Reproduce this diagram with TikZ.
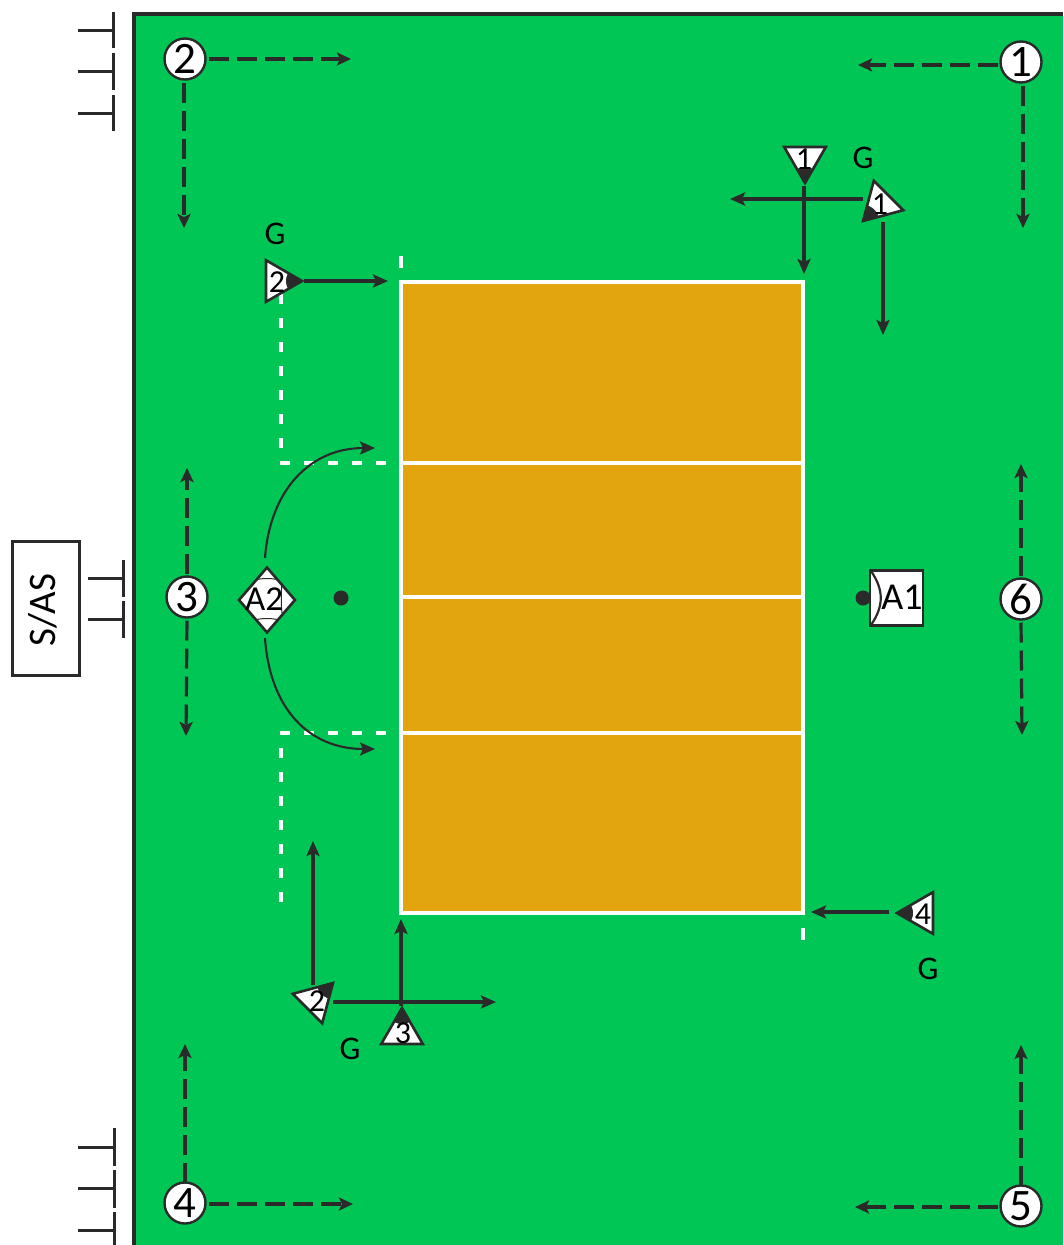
\documentclass[tikz,border=0pt]{standalone}
\usepackage{fontspec}
\setmainfont{Carlito}
\usetikzlibrary{arrows.meta,shapes.geometric}
\definecolor{pitch}{HTML}{00C656}
\definecolor{courtfill}{HTML}{E2A40F}
\definecolor{ink}{HTML}{2A2A2A}
\newcommand{\fs}[1]{\fontsize{#1}{#1}\selectfont}
\newcommand{\tipmark}[1]{%
  \begin{scope}
    \clip (#1.corner 1) -- (#1.corner 2) -- (#1.corner 3) -- cycle;
    \fill[ink] (#1.corner 1) circle (16pt);
  \end{scope}}
\tikzset{
  x=1pt,y=-1pt,
  numcircle/.style={circle,draw=ink,fill=white,line width=2.4pt,minimum size=41pt,inner sep=0pt,outer sep=0pt,text=black,font=\fs{45}},
  reftri/.style={regular polygon,regular polygon sides=3,shape border rotate=#1-90,draw=ink,fill=white,line width=2.6pt,minimum size=48pt,inner sep=0pt,outer sep=0pt},
  trilabel/.style={inner sep=0pt,text=black,font=\fs{32}},
  glabel/.style={inner sep=0pt,text=black,font=\fs{33}},
  conn/.style={draw=ink,line width=3.2pt,-{Stealth[length=15pt,width=13pt,inset=3pt]}},
  dashconn/.style={draw=ink,line width=3.2pt,dash pattern=on 20pt off 8pt,-{Stealth[length=14pt,width=13pt,inset=3pt]}},
  curveconn/.style={draw=ink,line width=2.1pt,-{Stealth[length=15pt,width=13pt,inset=3pt]}},
  markline/.style={draw=ink,line width=3pt},
  courtline/.style={draw=white,line width=3.5pt},
  whitedash/.style={draw=white,line width=3.5pt,dash pattern=on 10pt off 14pt},
}
\begin{document}
\begin{tikzpicture}
\path[use as bounding box] (0,0) rectangle (1063,1245);
% ground
\fill[pitch] (134,14) rectangle (1063,1245);
\draw[ink,line width=4pt] (134,1245) -- (134,14) -- (1063,14);
% court
\fill[courtfill] (401,282) rectangle (803,913);
\draw[courtline] (401,282) rectangle (803,913);
\draw[courtline] (401,463) -- (803,463);
\draw[courtline] (401,597) -- (803,597);
\draw[courtline] (401,733) -- (803,733);
% free-zone white lines
\draw[whitedash] (281,448) -- (281,282);
\draw[whitedash] (280,463) -- (390,463);
\draw[whitedash] (280,733) -- (390,733);
\draw[whitedash] (281,748) -- (281,905);
\draw[courtline] (401,256) -- (401,268);
\draw[courtline] (803,928) -- (803,940);
% bench marks
\foreach \y/\a/\b in {30/12/48,71/53/90,113/95/131}{
  \draw[markline] (113,\a) -- (113,\b);
  \draw[markline] (78,\y) -- (113,\y);}
\foreach \y/\a/\b in {1147/1128/1166,1188/1170/1208,1230/1212/1245}{
  \draw[markline] (114,\a) -- (114,\b);
  \draw[markline] (78,\y) -- (114,\y);}
\foreach \y/\a/\b in {578/560/597,619/601/638}{
  \draw[markline] (123.5,\a) -- (123.5,\b);
  \draw[markline] (88,\y) -- (123.5,\y);}
% S/AS table
\node[draw=ink,fill=white,line width=3pt,minimum width=67pt,minimum height=134pt,inner sep=0pt] (sas) at (45.5,608) {};
\node[rotate=90,inner sep=0pt,font=\fs{39},text=black] (sastext) at (43,610) {S/AS};
% line judges
\node[numcircle] (j1) at (1021,62) {1};
\node[numcircle] (j2) at (185,59) {2};
\node[numcircle] (j3) at (187,597) {3};
\node[numcircle] (j4) at (185,1203) {4};
\node[numcircle] (j5) at (1021,1206) {5};
\node[numcircle] (j6) at (1021,599) {6};
\coordinate (e1a) at (858,65);   \coordinate (e1b) at (1023,228);
\coordinate (e2a) at (351,59);   \coordinate (e2b) at (184,228);
\coordinate (e3a) at (187,468);  \coordinate (e3b) at (186,736);
\coordinate (e4a) at (185,1044); \coordinate (e4b) at (353,1204);
\coordinate (e5a) at (1021,1045);\coordinate (e5b) at (855,1207);
\coordinate (e6a) at (1021,464); \coordinate (e6b) at (1022,735);
\draw[dashconn,shorten <=3pt] (j1.west |- e1a) -- (e1a);
\draw[dashconn,shorten <=3pt] (e1b |- j1.south) -- (e1b);
\draw[dashconn,shorten <=3pt] (j2.east |- e2a) -- (e2a);
\draw[dashconn,shorten <=3pt] (e2b |- j2.south) -- (e2b);
\draw[dashconn,shorten <=3pt] (j3.north) -- (e3a);
\draw[dashconn,shorten <=3pt] (j3.south) -- (e3b);
\draw[dashconn] (j4.north) -- (e4a);
\draw[dashconn,shorten <=3pt] (j4.east |- e4b) -- (e4b);
\draw[dashconn] (j5.north) -- (e5a);
\draw[dashconn,shorten <=3pt] (j5.west |- e5b) -- (e5b);
\draw[dashconn,shorten <=3pt] (j6.north) -- (e6a);
\draw[dashconn,shorten <=3pt] (j6.south) -- (e6b);
% ball positions
\fill[ink] (341,598) circle (7.5pt);
\fill[ink] (863,598) circle (7.5pt);
% first referee
\node[draw=ink,fill=white,line width=2.4pt,minimum width=53pt,minimum height=55pt,inner sep=0pt] (aone) at (896.5,598) {};
\draw[ink,line width=2.2pt] (871,571) .. controls (884,590) and (884,606) .. (871,625);
\node[inner sep=0pt,font=\fs{38},text=black] (aonet) at (902,597) {A1};
% second referee
\node[diamond,draw=ink,fill=white,line width=2.6pt,minimum width=57pt,minimum height=66pt,inner sep=0pt] (atwo) at (267,600) {};
\draw[ink,line width=1pt] (255,580) .. controls (262,578) and (272,578) .. (279,580);
\draw[ink,line width=1pt] (255,620) .. controls (262,618) and (272,618) .. (279,620);
\draw[ink,line width=1pt] (282,583) .. controls (281,592) and (281,604) .. (282,613);
\node[inner sep=0pt,font=\fs{35},text=black] (atwot) at (264,599) {A2};
\coordinate (ca) at (375,448);
\coordinate (cb) at (375,749);
\draw[curveconn] (265,558) .. controls (270,490) and (310,448) .. (ca);
\draw[curveconn] (265,638) .. controls (270,710) and (310,749) .. (cb);
% linesmen triangles
\node[reftri=-90] (t1a) at (805,159) {}; \tipmark{t1a}
\node[reftri=225] (t1b) at (880,204) {}; \tipmark{t1b}
\node[reftri=0]   (t2a) at (278,281) {}; \tipmark{t2a}
\node[reftri=180] (t4)  at (921,913) {}; \tipmark{t4}
\node[reftri=45]  (t2b) at (316,1000) {}; \tipmark{t2b}
\node[reftri=90]  (t3)  at (402,1032) {}; \tipmark{t3}
\node[trilabel] (l1a) at (804,159) {1};
\node[trilabel] (l1b) at (880,204) {1};
\node[trilabel] (l2a) at (277,282) {2};
\node[trilabel] (l4)  at (923,914) {4};
\node[trilabel] (l2b) at (317,1001) {2};
\node[trilabel] (l3)  at (403,1033) {3};
\node[glabel] (g1) at (863,158) {G};
\node[glabel] (g2) at (275,234) {G};
\node[glabel] (g3) at (928,969) {G};
\node[glabel] (g4) at (350,1049) {G};
% assistant movements
\coordinate (m1) at (804,274);
\coordinate (m2) at (730,199);
\coordinate (m3) at (883,335);
\coordinate (m4) at (388,281);
\coordinate (m5) at (811,912);
\coordinate (m6) at (313,841);
\coordinate (m7) at (496,1002);
\coordinate (m8) at (401,919);
\draw[conn] ([xshift=-1pt,yshift=-3pt]t1a.corner 1) -- (m1);
\draw[conn] ([xshift=-17pt,yshift=5pt]t1b.center) -- (m2);
\draw[conn] ([xshift=3pt,yshift=-18pt]t1b.center) -- (m3);
\draw[conn] ([xshift=2pt]t2a.corner 1) -- (m4);
\draw[conn] ([xshift=-8pt,yshift=1pt]t4.corner 1) -- (m5);
\draw[conn] ([xshift=-3pt,yshift=15pt]t2b.center) -- (m6);
\draw[conn] ([yshift=-2pt,xshift=17pt]t2b.center) -- (m7);
\draw[conn] ([xshift=-1pt,yshift=2pt]t3.corner 1) -- (m8);
\end{tikzpicture}
\end{document}
